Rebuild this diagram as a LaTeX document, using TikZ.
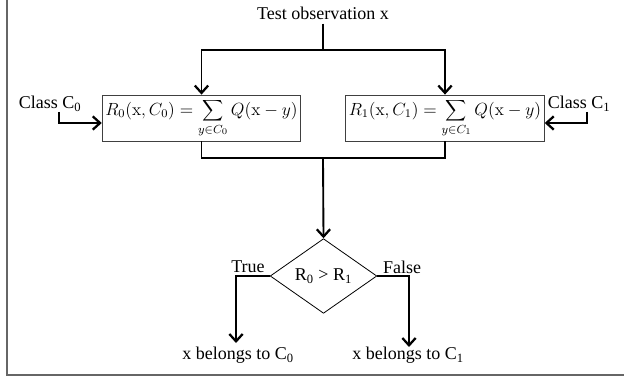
\documentclass[tikz,border=0pt]{standalone}
\usepackage{graphicx}
\usepackage[no-math]{fontspec}
\setmainfont{Liberation Serif}
\usetikzlibrary{shapes.geometric,arrows.meta}
\newcommand{\bigf}[1]{\scalebox{1.1}{#1}}
\begin{document}
\begin{tikzpicture}[x=0.75pt,y=-0.75pt,
  conn/.style={line width=1.4pt,black},
  arr/.style={conn,-{Straight Barb[length=5.5pt,width=10pt,line width=1.7pt]}},
  lbl/.style={inner sep=0pt,font=\fontsize{13.5pt}{16pt}\selectfont},
  box/.style={draw=black!75,line width=0.6pt,inner sep=0.5pt,minimum width=149pt,minimum height=34.5pt,font=\fontsize{12pt}{14pt}\selectfont},
  dec/.style={draw,diamond,line width=0.6pt,minimum width=80pt,minimum height=56pt,inner sep=0pt,font=\fontsize{13.5pt}{16pt}\selectfont},
  frame/.style={draw=black!60,line width=1.1pt}]
\useasboundingbox (0,0) rectangle (624,381);
\draw[frame] (7,0) -- (7,375) -- (624,375);
\node[lbl] (top) at (323,13) {Test observation x};
\coordinate (split) at (323,50);
\node[box] (b0) at (201.5,118) {\bigf{$R_0(\mathrm{x},C_0)=\displaystyle\sum_{y\in C_0}Q(\mathrm{x}-y)$}};
\node[box] (b1) at (445,118) {\bigf{$R_1(\mathrm{x},C_1)=\displaystyle\sum_{y\in C_1}Q(\mathrm{x}-y)$}};
\node[lbl] (c0) at (50,104) {Class C\textsubscript{0}};
\node[lbl] (c1) at (579,104) {Class C\textsubscript{1}};
\coordinate (c0a) at (59,112);
\coordinate (c0b) at (59,123);
\coordinate (c1a) at (587,112);
\coordinate (c1b) at (587,123);
\coordinate (merge) at (323,158);
\node[dec] (dia) at (323.5,276) {R\textsubscript{0} > R\textsubscript{1}};
\node[lbl] (true) at (248,267) {True};
\node[lbl] (false) at (402,267) {False};
\coordinate (tl) at (236,276);
\coordinate (fr) at (409,276);
\node[lbl] (res0) at (238,355) {x belongs to C\textsubscript{0}};
\node[lbl] (res1) at (408,355) {x belongs to C\textsubscript{1}};
\coordinate (res0t) at (236,343);
\coordinate (res1t) at (409,347);
\draw[conn] (top.south) ++(0,-3pt) coordinate (topb) (topb) -- (split);
\draw[arr] (split) -| (b0.north);
\draw[arr] (split) -| (b1.north);
\draw[arr] (c0a) -- (c0b) -- (b0.west|-c0b);
\draw[arr] (c1a) -- (c1b) -- (b1.east|-c1b);
\draw[conn] (b0.south) |- (merge);
\draw[conn] (b1.south) |- (merge);
\draw[arr] (merge) -- (dia.north);
\draw[arr] (dia.west) -- (tl) -- (res0t);
\draw[arr] (dia.east) -- (fr) -- (res1t);
\end{tikzpicture}
\end{document}
